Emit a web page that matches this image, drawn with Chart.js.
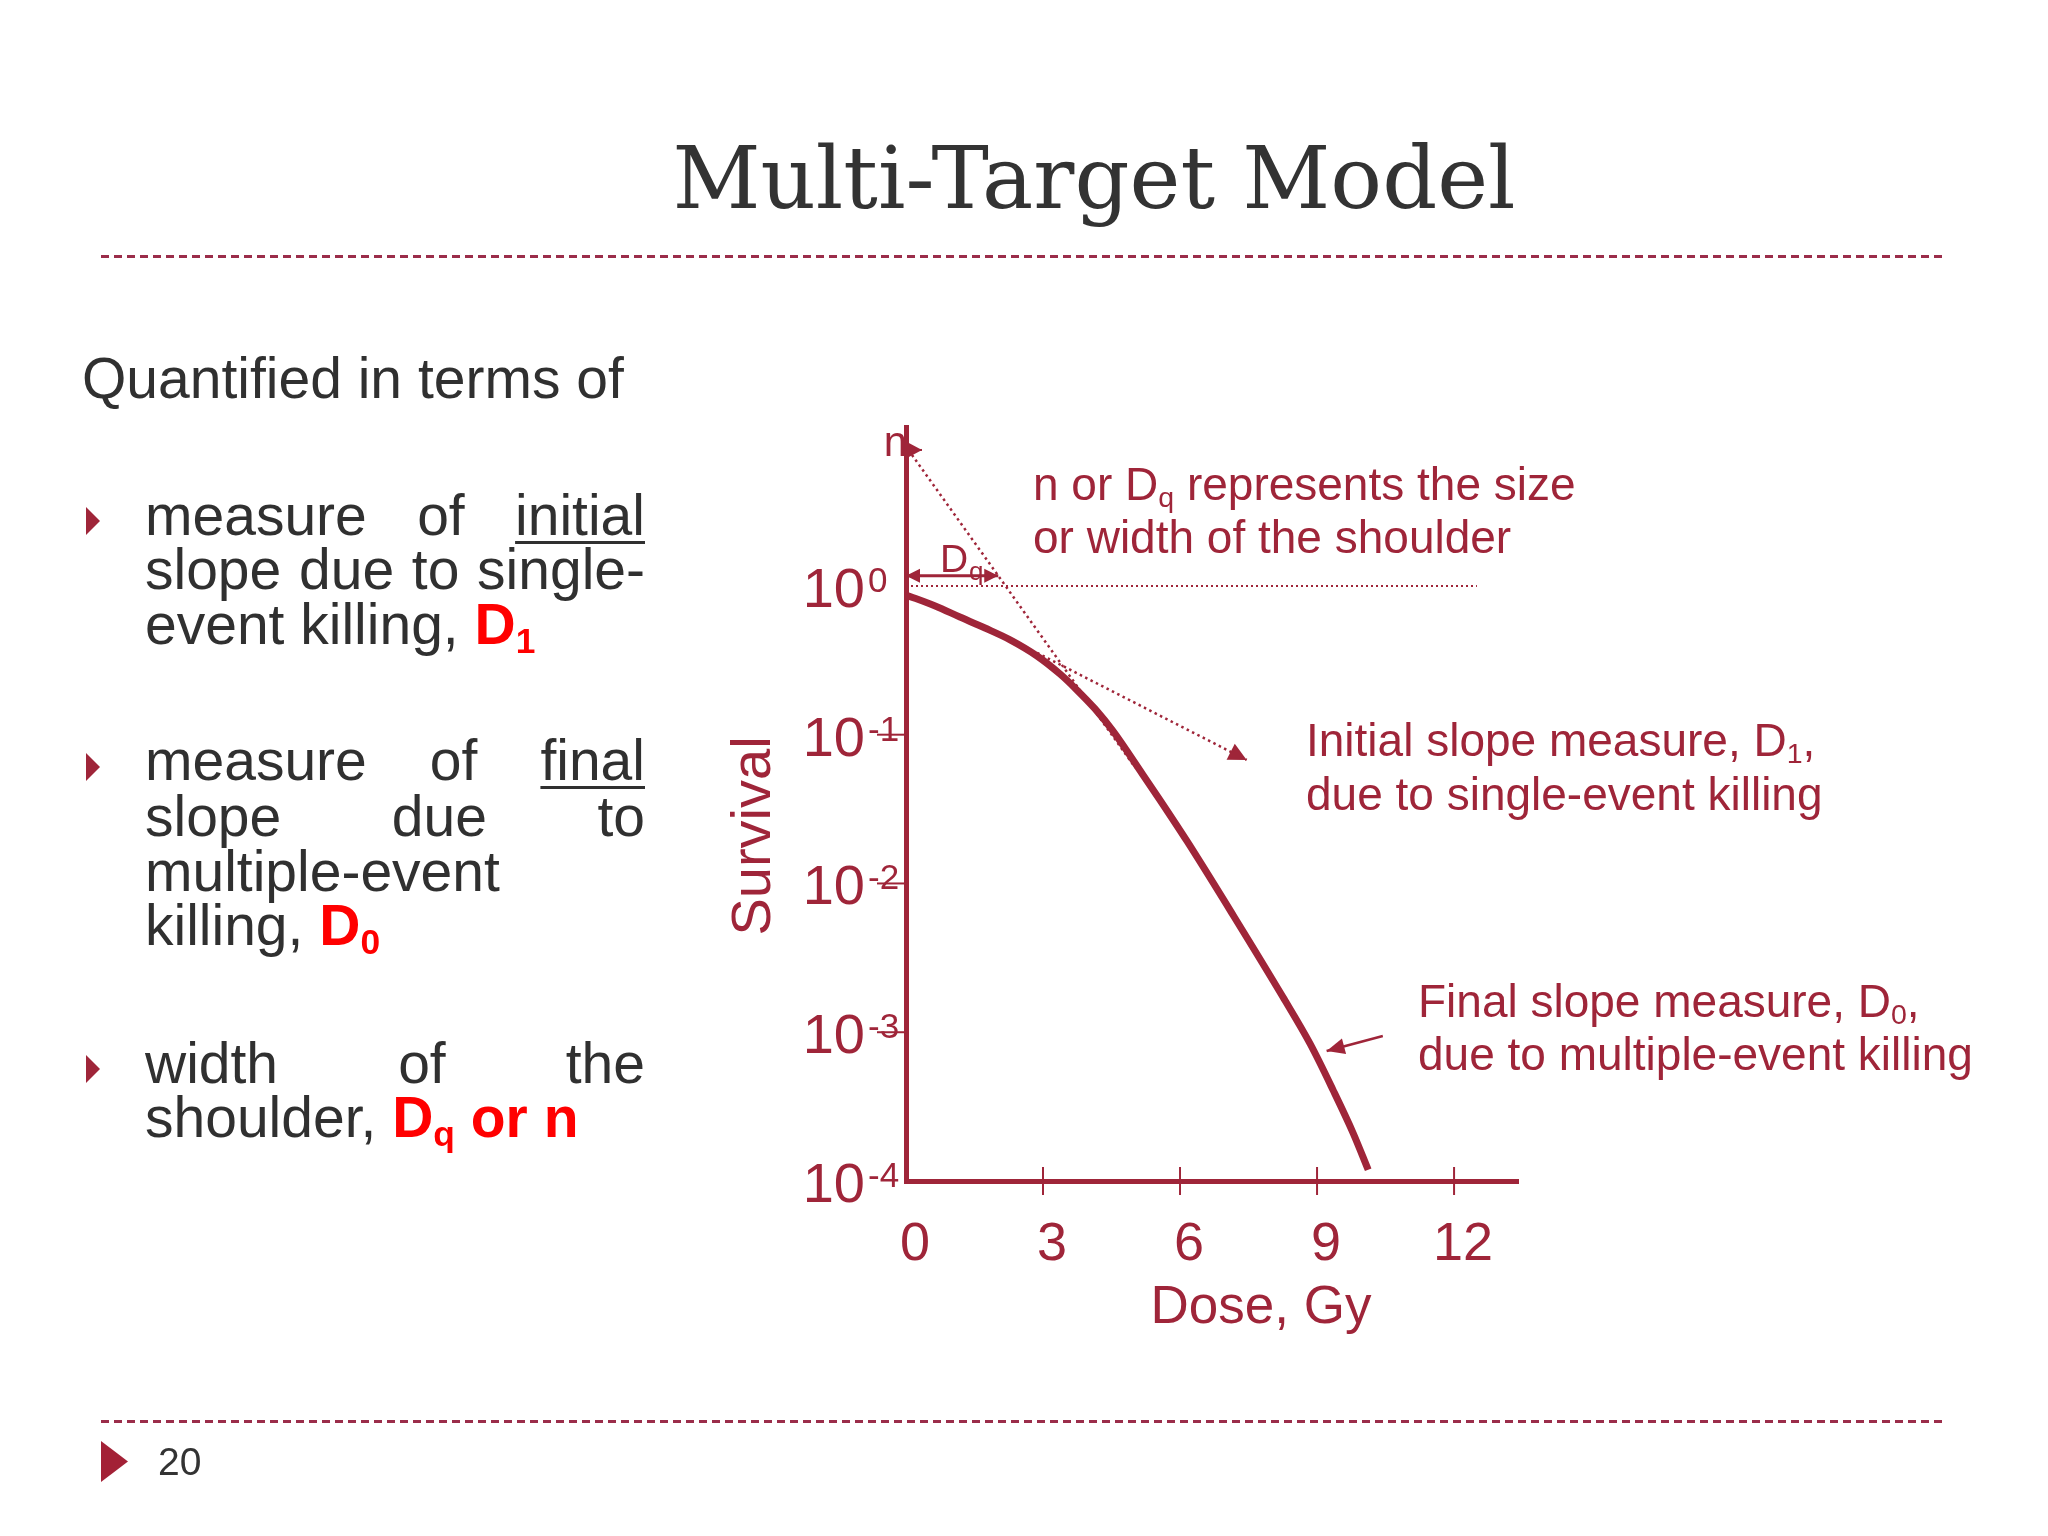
<!DOCTYPE html>
<html>
<head>
<meta charset="utf-8">
<title>Multi-Target Model</title>
<script src="https://cdn.jsdelivr.net/npm/chart.js@4.4.1/dist/chart.umd.min.js"></script>
<style>
  html, body { margin: 0; padding: 0; background: #fff; }
  #slide { position: relative; width: 2048px; height: 1536px; overflow: hidden; background: #fff;
           font-family: 'Liberation Sans', Arial, sans-serif; color: #303030; }
  #chart { position: absolute; left: 0; top: 0; }
  .t { position: absolute; white-space: nowrap; }
  .title { left: 0; width: 2188px; text-align: center; top: 135px; font: 86px/86px 'DejaVu Serif', serif; color: #333; }
  .rule { position: absolute; left: 101px; width: 1845px; height: 3px;
          background: repeating-linear-gradient(to right, #9b2d4a 0 8px, transparent 8px 13px); }
  .tri { position: absolute; background: #9f2539; clip-path: polygon(0 0, 100% 50%, 0 100%); }
  .body { font-size: 57px; line-height: 57px; height: 57px; }
  .ln { left: 145px; width: 500px; }
  .j { text-align: justify; text-align-last: justify; }
  .red { color: #ff0000; font-weight: bold; }
  .u { text-decoration: underline; text-decoration-thickness: 3px; text-underline-offset: 6px; }
  .sub { font-size: 0.62em; position: relative; top: 0.25em; }
  .note { font-size: 46px; line-height: 46px; color: #9f2539; }
</style>
</head>
<body>
<div id="slide">
  <canvas id="chart" width="2048" height="1536"></canvas>

  <div class="t title">Multi-Target Model</div>
  <div class="rule" style="top:255px"></div>
  <div class="rule" style="top:1420px"></div>

  <div class="t body" style="left:82px; top:350px">Quantified in terms of</div>

  <div class="tri" style="left:86px; top:507px; width:14px; height:28px"></div>
  <div class="t body ln j" style="top:487px">measure of <span class="u">initial</span></div>
  <div class="t body ln j" style="top:541px">slope due to single-</div>
  <div class="t body ln" style="top:596px">event killing, <span class="red">D<span class="sub">1</span></span></div>

  <div class="tri" style="left:86px; top:753px; width:14px; height:28px"></div>
  <div class="t body ln j" style="top:732px">measure of <span class="u">final</span></div>
  <div class="t body ln j" style="top:788px">slope due to</div>
  <div class="t body ln" style="top:843px">multiple-event</div>
  <div class="t body ln" style="top:897px">killing, <span class="red">D<span class="sub">0</span></span></div>

  <div class="tri" style="left:86px; top:1055px; width:14px; height:28px"></div>
  <div class="t body ln j" style="top:1035px">width of the</div>
  <div class="t body ln" style="top:1089px">shoulder, <span class="red">D<span class="sub">q</span> or n</span></div>

  <div class="t note" style="left:1033px; top:461px">n or D<span class="sub">q</span> represents the size</div>
  <div class="t note" style="left:1033px; top:514px">or width of the shoulder</div>
  <div class="t note" style="left:1306px; top:717px">Initial slope measure, D<span class="sub">1</span>,</div>
  <div class="t note" style="left:1306px; top:771px">due to single-event killing</div>
  <div class="t note" style="left:1418px; top:978px">Final slope measure, D<span class="sub">0</span>,</div>
  <div class="t note" style="left:1418px; top:1031px">due to multiple-event killing</div>

  <div class="tri" style="left:101px; top:1441px; width:27px; height:41px; background:#a32136"></div>
  <div class="t" style="left:158px; top:1442px; font-size:39px; line-height:39px; color:#333">20</div>
</div>

<script>
// Survival curve (dose in Gy, surviving fraction)
const dose = [0, 0.64, 1.18, 1.73, 2.28, 2.87, 3.37, 3.74, 4.14, 4.53,
              5.19, 5.56, 6.15, 7.16, 8.25, 8.85, 9.35, 9.79, 10.12];
const survival = [0.87, 0.733, 0.618, 0.521, 0.434, 0.338, 0.256, 0.2, 0.149, 0.106,
                  0.0536, 0.0364, 0.0193, 0.00614, 0.00173, 0.000834, 0.000409, 0.00021, 0.000119];

// Axis ticks
const doseTicks = [0, 3, 6, 9, 12];
const survivalTicks = [1, 0.1, 0.01, 0.001, 0.0001];
const survivalExp = ['0', '-1', '-2', '-3', '-4'];

// Guide lines and arrows
const extrapDose = [0.13, 5.02];
const extrapSurv = [7.6, 0.06];
const unityDose = [0, 12.5];
const unitySurv = [1, 1];
const dqDose = [0, 2.02];
const dqSurv = [1.17, 1.17];
const nDose = [0, 0.35];
const nSurv = [8.2, 8.2];
const d1Dose = [2.87, 7.46];
const d1Surv = [0.355, 0.0676];
const d0Dose = [10.44, 9.21];
const d0Surv = [0.000944, 0.000748];

const maroon = '#9f2539';
const font = '"Liberation Sans", Arial, sans-serif';

function pts(xs, ys) {
    return xs.map((x, i) => ({ x: x, y: ys[i] }));
}

function arrowHead(ctx, x, y, ang, len, half) {
    ctx.beginPath();
    ctx.moveTo(x, y);
    ctx.lineTo(x - len * Math.cos(ang) - half * Math.sin(ang), y - len * Math.sin(ang) + half * Math.cos(ang));
    ctx.lineTo(x - len * Math.cos(ang) + half * Math.sin(ang), y - len * Math.sin(ang) - half * Math.cos(ang));
    ctx.closePath();
    ctx.fill();
}

// Arrow heads on the ends of guide lines
const arrows = {
    id: 'arrows',
    afterDatasetsDraw(chart) {
        const ctx = chart.ctx;
        ctx.save();
        ctx.fillStyle = maroon;
        chart.data.datasets.forEach((ds, i) => {
            if (!ds.arrow) return;
            const p = chart.getDatasetMeta(i).data;
            const a = p[p.length - 2], b = p[p.length - 1];
            if (ds.arrow === 'end' || ds.arrow === 'both') {
                arrowHead(ctx, b.x, b.y, Math.atan2(b.y - a.y, b.x - a.x), ds.headLen, ds.headHalf);
            }
            if (ds.arrow === 'both') {
                arrowHead(ctx, p[0].x, p[0].y, Math.atan2(p[0].y - p[1].y, p[0].x - p[1].x), ds.headLen, ds.headHalf);
            }
        });
        ctx.restore();
    }
};

// Tick marks, 10^n labels and axis titles
const axisText = {
    id: 'axisText',
    afterDraw(chart) {
        const { ctx, scales: { x, y } } = chart;
        const ax = x.getPixelForValue(0);
        const ay = y.getPixelForValue(survivalTicks[survivalTicks.length - 1]);
        ctx.save();
        ctx.fillStyle = maroon;
        ctx.strokeStyle = maroon;
        ctx.lineWidth = 2;

        survivalTicks.forEach((v, i) => {
            const py = y.getPixelForValue(v);
            if (i > 0 && i < survivalTicks.length - 1) {
                ctx.beginPath();
                ctx.moveTo(ax - 29, py);
                ctx.lineTo(ax, py);
                ctx.stroke();
            }
            ctx.font = '56px ' + font;
            ctx.textAlign = 'right';
            ctx.fillText('10', ax - 41, py + 21);
            ctx.font = '35px ' + font;
            ctx.textAlign = 'left';
            ctx.fillText(survivalExp[i], ax - 38, py + 6);
        });

        doseTicks.forEach(v => {
            const px = x.getPixelForValue(v);
            if (v > 0) {
                ctx.beginPath();
                ctx.moveTo(px, ay - 14);
                ctx.lineTo(px, ay + 14);
                ctx.stroke();
            }
            ctx.font = '54px ' + font;
            ctx.textAlign = 'center';
            ctx.fillText(String(v), px + 9, ay + 79);
        });

        ctx.font = '53px ' + font;
        ctx.textAlign = 'center';
        ctx.fillText('Dose, Gy', 1261, ay + 142);

        ctx.save();
        ctx.translate(770, 836);
        ctx.rotate(-Math.PI / 2);
        ctx.font = '56px ' + font;
        ctx.fillText('Survival', 0, 0);
        ctx.restore();

        // n and Dq labels
        ctx.font = '42px ' + font;
        ctx.textAlign = 'right';
        ctx.fillText('n', ax + 1, 456);
        ctx.textAlign = 'left';
        ctx.font = '39px ' + font;
        ctx.fillText('D', 940, 572);
        ctx.font = '26px ' + font;
        ctx.fillText('q', 969, 580);
        ctx.restore();
    }
};

const ctx = document.getElementById('chart').getContext('2d');
const chart = new Chart(ctx, {
    type: 'line',
    data: {
        datasets: [
            {
                data: pts(dose, survival),
                borderColor: maroon,
                borderWidth: 7,
                pointRadius: 0,
                cubicInterpolationMode: 'monotone',
                borderCapStyle: 'butt',
                borderJoinStyle: 'round'
            },
            {
                data: pts(extrapDose, extrapSurv),
                borderColor: maroon,
                borderWidth: 2.5,
                borderDash: [2.5, 3.5],
                pointRadius: 0
            },
            {
                data: pts(unityDose, unitySurv),
                borderColor: maroon,
                borderWidth: 2,
                borderDash: [2, 3],
                pointRadius: 0
            },
            {
                data: pts(dqDose, dqSurv),
                borderColor: maroon,
                borderWidth: 3,
                pointRadius: 0,
                arrow: 'both', headLen: 14, headHalf: 7
            },
            {
                data: pts(nDose, nSurv),
                borderColor: maroon,
                borderWidth: 2,
                pointRadius: 0,
                arrow: 'end', headLen: 15, headHalf: 8
            },
            {
                data: pts(d1Dose, d1Surv),
                borderColor: maroon,
                borderWidth: 2.5,
                borderDash: [2.5, 3.5],
                pointRadius: 0,
                arrow: 'end', headLen: 18, headHalf: 9
            },
            {
                data: pts(d0Dose, d0Surv),
                borderColor: maroon,
                borderWidth: 2.5,
                pointRadius: 0,
                arrow: 'end', headLen: 18, headHalf: 8
            }
        ]
    },
    options: {
        responsive: false,
        animation: false,
        layout: { padding: { left: 906, top: 427, right: 530, bottom: 355 } },
        plugins: {
            legend: { display: false },
            tooltip: { enabled: false }
        },
        scales: {
            x: {
                type: 'linear',
                min: 0,
                max: 13.4,
                grid: { display: false, drawTicks: false },
                ticks: { display: false },
                border: { display: true, color: maroon, width: 5 }
            },
            y: {
                type: 'logarithmic',
                min: 0.0001,
                max: 11.7,
                grid: { display: false, drawTicks: false },
                ticks: { display: false },
                border: { display: true, color: maroon, width: 5 }
            }
        }
    },
    plugins: [arrows, axisText]
});
</script>
</body>
</html>
